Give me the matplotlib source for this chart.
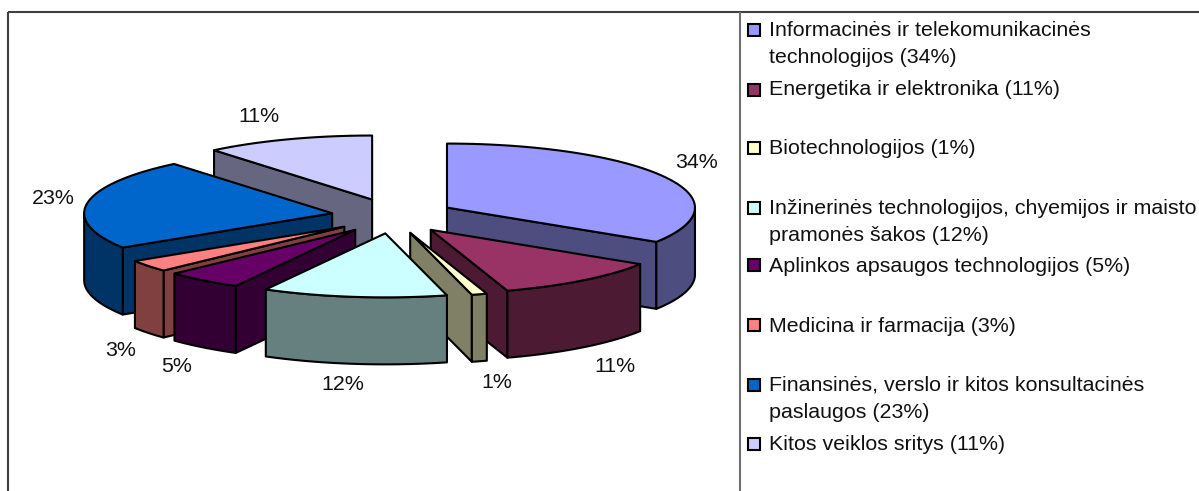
import numpy as np
import matplotlib
matplotlib.use("Agg")
import matplotlib.pyplot as plt
from matplotlib.patches import Polygon, Rectangle

plt.rcParams['font.family'] = ['Liberation Sans', 'DejaVu Sans']

categories = ["Informacinės ir telekomunikacinės\ntechnologijos (34%)",
              "Energetika ir elektronika (11%)",
              "Biotechnologijos (1%)",
              "Inžinerinės technologijos, chyemijos ir maisto\npramonės šakos (12%)",
              "Aplinkos apsaugos technologijos (5%)",
              "Medicina ir farmacija (3%)",
              "Finansinės, verslo ir kitos konsultacinės\npaslaugos (23%)",
              "Kitos veiklos sritys (11%)"]
values = [34, 11, 1, 12, 5, 3, 23, 11]
top_colors = ["#9999FF", "#993366", "#FFFFCC", "#CCFFFF", "#660066", "#FF8080", "#0066CC", "#CCCCFF"]
side_colors = ["#4D4D80", "#4D1A33", "#808066", "#668080", "#330033", "#804040", "#003366", "#666680"]

# layout (pixels)
CX, CY = 393, 216
A, B, DEPTH = 248, 64, 67
EX_A, EX_B = 61.6, 17.5
draw_order = [7, 6, 5, 4, 0, 1, 2, 3]
label_xy = [(697, 163), (615, 366), (497, 382), (343, 385), (177, 367), (121, 351), (53, 198), (259, 116)]
legend_swatch_y = [30, 90, 148, 208, 265, 325, 385, 444]
legend_text_y = [44, 89, 149, 222, 266, 326, 399, 445]
FS = 15.4
LW = 1.5

fig = plt.figure(figsize=(11.99, 4.91), dpi=100)
ax = fig.add_axes([0, 0, 1, 1])
ax.set_xlim(0, 1199)
ax.set_ylim(491, 0)
ax.axis('off')

# frame
frame = "#404040"
ax.plot([8, 8], [491, 12], color=frame, lw=1.5, solid_capstyle='butt')
ax.plot([8, 1199], [12, 12], color=frame, lw=1.5, solid_capstyle='butt')
ax.plot([740, 740], [12, 491], color="#707070", lw=1.5, solid_capstyle='butt')

fracs = np.array(values) / sum(values) * 360
starts = np.concatenate([[0], np.cumsum(fracs)[:-1]])
ends = np.cumsum(fracs)


def rim(cx, cy, th):
    t = np.radians(th)
    return np.column_stack([cx + A * np.sin(t), cy - B * np.cos(t)])


def add(pts, fc, z):
    ax.add_patch(Polygon(pts, closed=True, facecolor=fc, edgecolor='black',
                         lw=LW, joinstyle='round', zorder=z))


z = 2
for i in draw_order:
    th0, th1 = starts[i], ends[i]
    mid = np.radians((th0 + th1) / 2)
    cx = CX + EX_A * np.sin(mid)
    cy = CY - EX_B * np.cos(mid)
    apex = np.array([cx, cy])
    down = np.array([0, DEPTH])
    # radial walls that face the viewer
    if np.sin(np.radians(th0)) < -1e-6:
        p = rim(cx, cy, [th0])[0]
        add([apex, p, p + down, apex + down], side_colors[i], z)
    if np.sin(np.radians(th1)) > 1e-6:
        p = rim(cx, cy, [th1])[0]
        add([apex, p, p + down, apex + down], side_colors[i], z)
    # outer wall, visible part only
    v0, v1 = max(th0, 90), min(th1, 270)
    if v1 > v0:
        arc = rim(cx, cy, np.linspace(v0, v1, 40))
        add(np.vstack([arc, (arc + down)[::-1]]), side_colors[i], z)
    # top
    arc = rim(cx, cy, np.linspace(th0, th1, 60))
    add(np.vstack([[apex], arc]), top_colors[i], z)
    z += 1

for v, (x, y) in zip(values, label_xy):
    ax.text(x, y, f"{v}%", fontsize=FS, ha='center', va='center', color='#111111', zorder=30)

for i, name in enumerate(categories):
    ax.add_patch(Rectangle((748, legend_swatch_y[i] - 6), 12, 12, facecolor=top_colors[i],
                           edgecolor='black', lw=1.5, zorder=30))
    ax.text(769, legend_text_y[i], name, fontsize=FS, ha='left', va='center',
            linespacing=1.55, color='#111111', zorder=30)

fig.savefig("out.png", dpi=100, facecolor='white')
